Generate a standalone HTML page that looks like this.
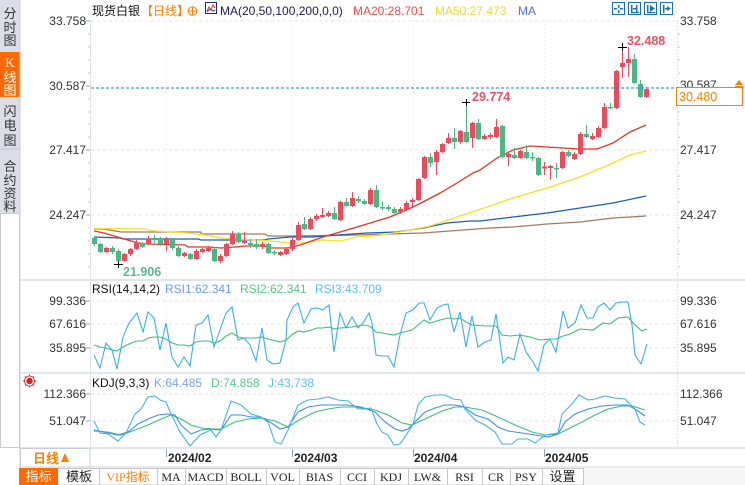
<!DOCTYPE html>
<html><head><meta charset="utf-8">
<style>
html,body{margin:0;padding:0;background:#fff;width:745px;height:485px;overflow:hidden}
svg{display:block}
text{font-family:"Liberation Sans","Noto Sans CJK SC",sans-serif}
.ax{font-size:12px;fill:#333}
.tab text{font-family:"Liberation Serif","Noto Sans CJK SC",serif;font-size:12px;fill:#222}
</style></head><body>
<svg width="745" height="485" viewBox="0 0 745 485" xmlns="http://www.w3.org/2000/svg">
<!-- sidebar -->
<rect x="0" y="0" width="20" height="213" fill="#dcdde6"/>
<rect x="0" y="52" width="20" height="45" fill="#ff6a00"/>
<line x1="0" y1="149" x2="20" y2="149" stroke="#c4c6d0"/>
<rect x="0.5" y="213.5" width="19" height="234" fill="#fff" stroke="#c8ccd4"/>
<line x1="20" y1="0" x2="20" y2="485" stroke="#c8ccd4"/>
<g font-size="13" fill="#333" text-anchor="middle">
<text x="10" y="18">分</text><text x="10" y="32">时</text><text x="10" y="45">图</text>
<text x="10" y="67" fill="#fff" style="font-family:'Liberation Serif',serif">K</text><text x="10" y="82" fill="#fff">线</text><text x="10" y="95" fill="#fff">图</text>
<text x="10" y="116">闪</text><text x="10" y="130">电</text><text x="10" y="145">图</text>
<text x="10" y="171">合</text><text x="10" y="185">约</text><text x="10" y="198">资</text><text x="10" y="211">料</text>
</g>
<!-- axes lines -->
<line x1="90.5" y1="20" x2="90.5" y2="448" stroke="#dde3ea"/>
<line x1="677.5" y1="20" x2="677.5" y2="448" stroke="#d0d4da" stroke-dasharray="1,2"/>
<!-- panel separators -->
<line x1="20" y1="280" x2="745" y2="280" stroke="#e3e7ec" stroke-width="2"/>
<line x1="20" y1="373" x2="745" y2="373" stroke="#e3e7ec" stroke-width="2"/>
<line x1="20" y1="448" x2="745" y2="448" stroke="#e3e7ec" stroke-width="2"/>
<line x1="20" y1="467" x2="745" y2="467" stroke="#d0d4da" stroke-width="1"/>
<!-- grid horizontal -->
<g stroke="#e6e6e6" stroke-dasharray="3,3">
<line x1="91" y1="21" x2="677" y2="21"/><line x1="91" y1="150" x2="677" y2="150"/><line x1="91" y1="215" x2="677" y2="215"/>
<line x1="91" y1="301" x2="677" y2="301"/><line x1="91" y1="324" x2="677" y2="324"/><line x1="91" y1="348" x2="677" y2="348"/>
<line x1="91" y1="394" x2="677" y2="394"/><line x1="91" y1="421" x2="677" y2="421"/>
</g>
<g stroke="#e3e3e3" stroke-dasharray="1,3">
<line x1="166.5" y1="20" x2="166.5" y2="448"/><line x1="292.5" y1="20" x2="292.5" y2="448"/>
<line x1="413.5" y1="20" x2="413.5" y2="448"/><line x1="544.5" y1="20" x2="544.5" y2="448"/>
</g>
<!-- ticks -->
<g stroke="#9aa4b0">
<line x1="86" y1="21" x2="90" y2="21"/><line x1="86" y1="86" x2="90" y2="86"/><line x1="86" y1="150" x2="90" y2="150"/><line x1="86" y1="215" x2="90" y2="215"/>
<line x1="86" y1="301" x2="90" y2="301"/><line x1="86" y1="324" x2="90" y2="324"/><line x1="86" y1="348" x2="90" y2="348"/>
<line x1="86" y1="394" x2="90" y2="394"/><line x1="86" y1="421" x2="90" y2="421"/>
</g>
<g stroke="#c0c8d0">
<line x1="88" y1="34" x2="90" y2="34"/><line x1="88" y1="47" x2="90" y2="47"/><line x1="88" y1="60" x2="90" y2="60"/><line x1="88" y1="73" x2="90" y2="73"/>
<line x1="88" y1="99" x2="90" y2="99"/><line x1="88" y1="112" x2="90" y2="112"/><line x1="88" y1="124" x2="90" y2="124"/><line x1="88" y1="137" x2="90" y2="137"/>
<line x1="88" y1="163" x2="90" y2="163"/><line x1="88" y1="176" x2="90" y2="176"/><line x1="88" y1="189" x2="90" y2="189"/><line x1="88" y1="202" x2="90" y2="202"/>
<line x1="88" y1="228" x2="90" y2="228"/><line x1="88" y1="241" x2="90" y2="241"/><line x1="88" y1="254" x2="90" y2="254"/><line x1="88" y1="267" x2="90" y2="267"/>
<line x1="678" y1="34" x2="680" y2="34"/><line x1="678" y1="47" x2="680" y2="47"/><line x1="678" y1="60" x2="680" y2="60"/><line x1="678" y1="73" x2="680" y2="73"/>
<line x1="678" y1="112" x2="680" y2="112"/><line x1="678" y1="124" x2="680" y2="124"/><line x1="678" y1="137" x2="680" y2="137"/>
<line x1="678" y1="163" x2="680" y2="163"/><line x1="678" y1="176" x2="680" y2="176"/><line x1="678" y1="189" x2="680" y2="189"/><line x1="678" y1="202" x2="680" y2="202"/>
<line x1="678" y1="228" x2="680" y2="228"/><line x1="678" y1="241" x2="680" y2="241"/><line x1="678" y1="254" x2="680" y2="254"/><line x1="678" y1="267" x2="680" y2="267"/>
</g>
<!-- left axis labels -->
<g class="ax" text-anchor="end">
<text x="86" y="25">33.758</text><text x="86" y="90">30.587</text><text x="86" y="154">27.417</text><text x="86" y="219">24.247</text>
<text x="86" y="305">99.336</text><text x="86" y="328">67.616</text><text x="86" y="352">35.895</text>
<text x="86" y="398">112.366</text><text x="86" y="425">51.047</text>
</g>
<!-- right axis labels -->
<g class="ax">
<text x="680" y="25">33.758</text><text x="680" y="89">30.587</text><text x="680" y="154">27.417</text><text x="680" y="219">24.247</text>
<text x="680" y="305">99.336</text><text x="680" y="328">67.616</text><text x="680" y="352">35.895</text>
<text x="680" y="398">112.366</text><text x="680" y="425">51.047</text>
</g>
<!-- title -->
<text x="92" y="15" font-size="12" fill="#111">现货白银</text>
<text x="141" y="15" font-size="12" fill="#ff8000">【日线】</text>
<circle cx="192.5" cy="11" r="4.2" fill="none" stroke="#ff8000"/><line x1="188" y1="11" x2="197" y2="11" stroke="#ff8000"/><line x1="192.5" y1="6.5" x2="192.5" y2="15.5" stroke="#ff8000"/>
<rect x="205.5" y="2.5" width="11" height="11" fill="#fff" stroke="#1a2a80"/><polyline points="207,11 209,7 211,10 213,5 215,8" fill="none" stroke="#e03030"/><polyline points="207,12 210,9 213,11 215,10" fill="none" stroke="#2050c0"/>
<text x="220" y="15" font-size="12" fill="#1a1a5a">MA(20,50,100,200,0,0)</text>
<text x="353" y="15" font-size="12" fill="#ff4a4a">MA20:28.701</text>
<text x="435" y="15" font-size="12" fill="#f0d838">MA50:27.473</text>
<text x="518" y="15" font-size="12" fill="#5a6fd6">MA</text>
<!-- top right icons -->
<g fill="none" stroke="#1a70c0">
<rect x="612.5" y="2.5" width="12" height="12"/><rect x="628.5" y="2.5" width="12" height="12"/><rect x="644.5" y="2.5" width="12" height="12"/><rect x="660.5" y="2.5" width="12" height="12"/>
</g>
<g fill="#1a70c0">
<rect x="618" y="5" width="1.5" height="3"/><rect x="618" y="10" width="1.5" height="3"/><rect x="614" y="8" width="3" height="1.5"/><rect x="620" y="8" width="3" height="1.5"/>
<rect x="631" y="5" width="1.5" height="8"/><rect x="636" y="5" width="1.5" height="8"/><rect x="631" y="12" width="8" height="1.2"/><rect x="633" y="8" width="3" height="1.5"/>
<rect x="647" y="5" width="1.5" height="8"/><polygon points="650,5 655,8.5 650,12"/><rect x="647" y="12" width="8" height="1.2"/>
<rect x="663" y="5" width="1.5" height="8"/><polygon points="667,6 671,8.5 667,11"/><rect x="665" y="8" width="3" height="1.5"/>
</g>
<!-- MAs -->
<g fill="none" stroke-width="1.3">
<polyline stroke="#a57a60" points="94,229 104,229 121,232 146,232 201,232 201,234 265,234 268,236 290,236 357,235 423,233 490,228 513,227 547,224 580,222 613,218 646,216"/>
<polyline stroke="#1a5fb4" points="94,237 120,238 123,239 198,239 201,240 265,240 268,239 290,237 313,237 337,235 367,233 397,232 423,228 447,223 470,221 480,221 513,217 547,213 580,208 613,203 646,196"/>
<polyline stroke="#f5e12a" points="94,228.5 121,228.5 143,229 155,231 171,232 188,233 205,235 221,238 238,239 255,240 271,241 290,243 305,243 323,240 340,241 357,237 373,236 400,232 430,226 457,217 490,206 513,198 547,188 580,177 613,163 630,155 646,151"/>
<polyline stroke="#ee3322" points="94,231 104,233 121,238 138,243 148,244 185,245 188,247 208,247 221,248 235,247 245,246 265,246 268,248 288,248 300,245 323,237 357,227 390,217 413,207 423,202 440,193 457,183 473,173 480,170 497,158 513,150 530,146 547,147 563,148 580,149 597,149 613,143 630,132 646,125"/>
</g>
<!-- red candles -->
<g fill="#eb4b5c">
<rect x="104" y="248" width="5" height="4"/><rect x="106" y="247" width="1" height="6"/>
<rect x="122" y="254" width="5" height="7"/><rect x="124" y="253" width="1" height="9"/>
<rect x="128" y="249" width="5" height="5"/><rect x="130" y="248" width="1" height="8"/>
<rect x="134" y="243" width="5" height="6"/><rect x="136" y="240" width="1" height="10"/>
<rect x="146" y="239" width="5" height="5"/><rect x="148" y="236" width="1" height="9"/>
<rect x="164" y="239" width="5" height="5"/><rect x="166" y="237" width="1" height="14"/>
<rect x="182" y="253" width="5" height="3"/><rect x="184" y="252" width="1" height="5"/>
<rect x="194" y="251" width="5" height="8"/><rect x="196" y="249" width="1" height="11"/>
<rect x="200" y="249" width="5" height="3"/><rect x="202" y="248" width="1" height="5"/>
<rect x="206" y="248" width="5" height="3"/><rect x="208" y="246" width="1" height="6"/>
<rect x="218" y="256" width="5" height="5"/><rect x="220" y="254" width="1" height="9"/>
<rect x="224" y="244" width="5" height="12"/><rect x="226" y="243" width="1" height="14"/>
<rect x="230" y="234" width="5" height="10"/><rect x="232" y="231" width="1" height="14"/>
<rect x="242" y="241" width="5" height="2"/><rect x="244" y="232" width="1" height="12"/>
<rect x="260" y="244" width="5" height="3"/><rect x="262" y="242" width="1" height="7"/>
<rect x="278" y="252" width="5" height="3"/><rect x="280" y="251" width="1" height="5"/>
<rect x="284" y="249" width="5" height="5"/><rect x="286" y="247" width="1" height="8"/>
<rect x="290" y="240" width="5" height="9"/><rect x="292" y="238" width="1" height="13"/>
<rect x="296" y="225" width="5" height="15"/><rect x="298" y="222" width="1" height="19"/>
<rect x="308" y="219" width="5" height="10"/><rect x="310" y="217" width="1" height="13"/>
<rect x="314" y="216" width="5" height="3"/><rect x="316" y="214" width="1" height="7"/>
<rect x="320" y="215" width="5" height="2"/><rect x="322" y="208" width="1" height="10"/>
<rect x="326" y="213" width="5" height="3"/><rect x="328" y="211" width="1" height="6"/>
<rect x="338" y="202" width="5" height="18"/><rect x="340" y="201" width="1" height="20"/>
<rect x="350" y="198" width="5" height="8"/><rect x="352" y="192" width="1" height="15"/>
<rect x="368" y="190" width="5" height="14"/><rect x="370" y="188" width="1" height="17"/>
<rect x="398" y="209" width="5" height="3"/><rect x="400" y="207" width="1" height="7"/>
<rect x="404" y="203" width="5" height="7"/><rect x="406" y="201" width="1" height="10"/>
<rect x="410" y="200" width="5" height="2"/><rect x="412" y="198" width="1" height="9"/>
<rect x="416" y="179" width="5" height="21"/><rect x="418" y="178" width="1" height="23"/>
<rect x="422" y="157" width="5" height="21"/><rect x="424" y="156" width="1" height="23"/>
<rect x="434" y="152" width="5" height="10"/><rect x="436" y="150" width="1" height="25"/>
<rect x="440" y="144" width="5" height="8"/><rect x="442" y="143" width="1" height="10"/>
<rect x="446" y="138" width="5" height="5"/><rect x="448" y="133" width="1" height="11"/>
<rect x="458" y="131" width="5" height="11"/><rect x="460" y="130" width="1" height="14"/>
<rect x="470" y="123" width="5" height="15"/><rect x="472" y="122" width="1" height="26"/>
<rect x="482" y="136" width="5" height="3"/><rect x="484" y="134" width="1" height="6"/>
<rect x="488" y="135" width="5" height="2"/><rect x="490" y="133" width="1" height="6"/>
<rect x="494" y="127" width="5" height="10"/><rect x="496" y="119" width="1" height="19"/>
<rect x="506" y="154" width="5" height="3"/><rect x="508" y="152" width="1" height="14"/>
<rect x="518" y="151" width="5" height="7"/><rect x="520" y="150" width="1" height="9"/>
<rect x="542" y="166.5" width="5" height="2"/><rect x="544" y="162" width="1" height="13"/>
<rect x="548" y="166" width="5" height="2"/><rect x="550" y="165" width="1" height="15"/>
<rect x="560" y="152" width="5" height="16"/><rect x="562" y="151" width="1" height="18"/>
<rect x="572" y="154" width="5" height="5"/><rect x="574" y="152" width="1" height="8"/>
<rect x="578" y="134" width="5" height="20"/><rect x="580" y="132" width="1" height="23"/>
<rect x="590" y="136" width="5" height="3"/><rect x="592" y="133" width="1" height="7"/>
<rect x="596" y="128" width="5" height="9"/><rect x="598" y="126" width="1" height="12"/>
<rect x="602" y="107" width="5" height="21"/><rect x="604" y="103" width="1" height="26"/>
<rect x="614" y="71" width="5" height="37"/><rect x="616" y="70" width="1" height="39"/>
<rect x="620" y="63" width="5" height="4"/><rect x="622" y="47" width="1" height="31"/>
<rect x="626" y="59" width="5" height="4"/><rect x="628" y="47" width="1" height="30"/>
<rect x="644" y="89" width="5" height="8"/><rect x="646" y="87" width="1" height="11"/>
</g>
<!-- green candles -->
<g fill="#4cb783">
<rect x="92" y="238" width="5" height="6"/><rect x="94" y="236" width="1" height="10"/>
<rect x="98" y="244" width="5" height="8"/><rect x="100" y="243" width="1" height="10"/>
<rect x="110" y="248" width="5" height="4"/><rect x="112" y="246" width="1" height="8"/>
<rect x="116" y="251" width="5" height="10"/><rect x="118" y="249" width="1" height="15"/>
<rect x="140" y="243" width="5" height="4"/><rect x="142" y="242" width="1" height="6"/>
<rect x="152" y="238" width="5" height="2"/><rect x="154" y="235" width="1" height="8"/>
<rect x="158" y="239" width="5" height="5"/><rect x="160" y="237" width="1" height="9"/>
<rect x="170" y="239" width="5" height="9"/><rect x="172" y="238" width="1" height="12"/>
<rect x="176" y="248" width="5" height="8"/><rect x="178" y="246" width="1" height="11"/>
<rect x="188" y="254" width="5" height="5"/><rect x="190" y="253" width="1" height="7"/>
<rect x="212" y="249" width="5" height="12"/><rect x="214" y="247" width="1" height="15"/>
<rect x="236" y="234" width="5" height="8"/><rect x="238" y="232" width="1" height="11"/>
<rect x="248" y="243" width="5" height="2"/><rect x="250" y="239" width="1" height="9"/>
<rect x="254" y="244" width="5" height="3"/><rect x="256" y="239" width="1" height="10"/>
<rect x="266" y="244" width="5" height="9"/><rect x="268" y="243" width="1" height="11"/>
<rect x="272" y="252" width="5" height="1.5"/><rect x="274" y="250" width="1" height="5"/>
<rect x="302" y="224" width="5" height="5"/><rect x="304" y="217" width="1" height="13"/>
<rect x="332" y="213" width="5" height="6"/><rect x="334" y="207" width="1" height="13"/>
<rect x="344" y="202" width="5" height="4"/><rect x="346" y="198" width="1" height="9"/>
<rect x="356" y="199" width="5" height="2"/><rect x="358" y="196" width="1" height="7"/>
<rect x="362" y="201" width="5" height="3"/><rect x="364" y="199" width="1" height="6"/>
<rect x="374" y="190" width="5" height="17"/><rect x="376" y="185" width="1" height="23"/>
<rect x="380" y="207" width="5" height="1.5"/><rect x="382" y="202" width="1" height="8"/>
<rect x="386" y="207" width="5" height="2"/><rect x="388" y="205" width="1" height="6"/>
<rect x="392" y="209" width="5" height="4"/><rect x="394" y="207" width="1" height="7"/>
<rect x="428" y="157" width="5" height="6"/><rect x="430" y="153" width="1" height="14"/>
<rect x="452" y="138" width="5" height="4"/><rect x="454" y="128" width="1" height="21"/>
<rect x="464" y="132" width="5" height="10"/><rect x="466" y="102" width="1" height="41"/>
<rect x="476" y="123" width="5" height="16"/><rect x="478" y="119" width="1" height="21"/>
<rect x="500" y="126" width="5" height="31"/><rect x="502" y="125" width="1" height="33"/>
<rect x="512" y="155" width="5" height="3"/><rect x="514" y="148" width="1" height="11"/>
<rect x="524" y="152" width="5" height="6"/><rect x="526" y="145" width="1" height="14"/>
<rect x="530" y="157" width="5" height="1.5"/><rect x="532" y="152" width="1" height="9"/>
<rect x="536" y="158" width="5" height="17"/><rect x="538" y="157" width="1" height="19"/>
<rect x="554" y="168" width="5" height="1.5"/><rect x="556" y="163" width="1" height="15"/>
<rect x="566" y="152" width="5" height="4"/><rect x="568" y="150" width="1" height="7"/>
<rect x="584" y="134" width="5" height="3"/><rect x="586" y="125" width="1" height="13"/>
<rect x="608" y="107" width="5" height="1.5"/><rect x="610" y="103" width="1" height="6"/>
<rect x="632" y="59" width="5" height="24"/><rect x="634" y="54" width="1" height="30"/>
<rect x="638" y="84" width="5" height="13"/><rect x="640" y="80" width="1" height="18"/>
</g>
<!-- current price line -->
<line x1="91" y1="88" x2="745" y2="88" stroke="#1e7fe6" stroke-dasharray="3,2"/>
<rect x="676.5" y="87.5" width="66" height="18" fill="#fff" stroke="#ff8000"/>
<text x="679" y="101" font-size="12.5" fill="#ff8000">30.480</text>
<polygon points="739,80 735,85 743,85" fill="#ff8000"/><rect x="735" y="86" width="8" height="1.5" fill="#ff8000"/>
<!-- extreme markers -->
<g stroke="#000">
<line x1="618" y1="47.5" x2="627" y2="47.5"/><line x1="622.5" y1="43" x2="622.5" y2="51"/>
<line x1="462" y1="102.5" x2="470" y2="102.5"/><line x1="466.5" y1="99" x2="466.5" y2="106"/>
<line x1="114" y1="264.5" x2="123" y2="264.5"/><line x1="118.5" y1="261" x2="118.5" y2="268"/>
</g>
<g font-size="12.5" font-weight="bold">
<text x="627" y="45" fill="#ee5064">32.488</text>
<text x="472" y="101" fill="#ee5064">29.774</text>
<text x="123" y="276" fill="#5bb890">21.906</text>
</g>
<!-- RSI -->
<g font-size="12">
<text x="92" y="293" fill="#111">RSI(14,14,2)</text>
<text x="165" y="293" fill="#6d9bf5">RSI1:62.341</text>
<text x="240" y="293" fill="#55c98a">RSI2:62.341</text>
<text x="315" y="293" fill="#5ec2ee">RSI3:43.709</text>
</g>
<polyline fill="none" stroke="#3cbf78" stroke-width="1.1" points="94,345 100,347 106,348 112,350 117,351 123,347 129,344 137,341 143,341 148,338 154,337 160,337 166,339 172,343 178,345 184,345 190,346 196,342 202,341 208,341 214,343 220,341 226,336 232,333 238,337 244,338 256,338 262,337 268,339 280,342 286,340 293,334 298,331 304,332 311,330 317,328 323,328 329,327 334,329 340,328 352,327 363,325 369,326 372,328 376,332 382,333 394,335 400,333 412,330 418,325 424,320 430,323 440,320 448,318 454,319 460,318 466,322 472,325 485,326 496,326 502,335 510,336 520,335 530,337 540,340 550,339 556,339 563,336 570,334 580,329 593,330 603,323 610,324 618,318 628,317 635,325 642,331 647,329"/>
<polyline fill="none" stroke="#3db0e6" stroke-width="1.1" points="94,355 100,368 106,343 112,350 117,369 123,337 129,323 137,313 143,332 148,312 154,318 160,350 166,323 172,357 178,367 184,357 190,366 196,325 202,323 208,315 214,347 220,330 226,313 232,307 238,340 244,338 250,345 256,361 262,328 267,360 273,364 280,363 286,340 287,320 293,307 298,303 304,323 311,309 317,308 323,310 329,305 334,352 340,313 346,328 352,317 358,328 363,323 369,313 372,323 376,355 382,356 388,356 394,367 400,335 406,313 413,310 419,303 424,303 430,320 437,308 443,305 448,304 454,332 460,312 466,347 472,316 478,347 485,342 491,340 496,314 503,363 508,357 514,360 520,334 526,352 533,362 538,371 544,345 550,339 556,352 563,311 568,328 575,323 581,305 587,318 593,318 598,307 604,303 610,310 616,303 622,302 628,302 632,325 635,355 641,364 647,344"/>
<!-- KDJ -->
<g>
<circle cx="29.5" cy="381" r="3.2" fill="#e02020"/><circle cx="29.5" cy="381" r="5" fill="none" stroke="#e02020" stroke-width="0.8"/>
<g stroke="#e02020" stroke-width="1"><line x1="23" y1="381" x2="24.5" y2="381"/><line x1="34.5" y1="381" x2="36" y2="381"/><line x1="29.5" y1="374.5" x2="29.5" y2="376"/><line x1="29.5" y1="386" x2="29.5" y2="387.5"/><line x1="25" y1="376.5" x2="26" y2="377.5"/><line x1="33" y1="384.5" x2="34" y2="385.5"/><line x1="34" y1="376.5" x2="33" y2="377.5"/><line x1="26" y1="384.5" x2="25" y2="385.5"/></g>
</g>
<g font-size="12">
<text x="92" y="387" fill="#111">KDJ(9,3,3)</text>
<text x="154" y="387" fill="#7fa2f5">K:64.485</text>
<text x="211" y="387" fill="#55c98a">D:74.858</text>
<text x="268" y="387" fill="#5ec2ee">J:43.738</text>
</g>
<g fill="none" stroke-width="1.1">
<polyline stroke="#3cbf78" points="94,431 108,432 121,435 135,430 148,425 161,419 171,415 181,419 191,425 201,428 215,429 221,429 235,422 248,419 261,418 275,421 288,427 301,419 315,412 328,409 341,407 355,407 375,410 388,415 402,423 412,425 425,419 442,411 455,407 465,407 482,410 498,417 515,425 532,432 545,435 558,434 568,429 582,422 595,415 608,409 622,406 632,406 645,410"/>
<polyline stroke="#3d8ff0" points="94,430 108,433 118,435 128,432 138,424 148,419 158,415 168,414 175,415 181,425 191,434 201,430 211,429 221,430 231,415 241,415 251,417 261,417 270,422 280,429 288,427 298,412 308,407 321,405 335,405 348,405 361,407 375,412 385,422 395,429 402,431 408,429 415,422 425,412 435,408 445,405 455,405 464,407 475,415 488,419 498,427 508,431 522,433 535,435 548,437 558,434 565,422 575,414 588,409 602,406 615,405 628,405 638,411 645,416"/>
<polyline stroke="#45b4e8" points="94,421 100,433 108,434 118,441 126,433 135,414 141,409 148,397 155,396 160,400 166,402 171,414 180,432 190,446 200,435 211,430 216,437 221,430 231,401 241,405 251,414 261,417 268,422 275,442 281,444 288,430 298,405 308,400 318,399 328,397 338,400 348,401 358,409 365,409 371,408 377,424 382,432 388,435 394,445 400,444 407,434 413,424 418,405 425,397 435,395 445,395 453,399 461,400 465,409 475,420 485,425 495,432 502,444 512,444 518,439 528,439 535,443 545,435 558,433 562,414 572,404 579,395 588,400 595,399 605,396 615,398 625,399 630,404 635,409 640,422 645,425"/>
</g>
<!-- date row -->
<rect x="20.5" y="448.5" width="69.5" height="18.5" fill="#fff" stroke="#c8ccd4"/>
<text x="33" y="463" font-size="13" font-weight="bold" fill="#ff8000">日线</text>
<polygon points="65,453 61,462 69,462" fill="#ff8000"/>
<g stroke="#9aa4b0"><line x1="166.5" y1="449" x2="166.5" y2="457"/><line x1="292.5" y1="449" x2="292.5" y2="457"/><line x1="413.5" y1="449" x2="413.5" y2="457"/><line x1="544.5" y1="449" x2="544.5" y2="457"/></g>
<g font-size="12" font-weight="bold" fill="#222">
<text x="168" y="462">2024/02</text><text x="294" y="462">2024/03</text><text x="414" y="462">2024/04</text><text x="545" y="462">2024/05</text>
</g>
<!-- tabs -->
<rect x="19" y="468" width="726" height="17" fill="#f7f7f7"/>
<rect x="19.5" y="468.5" width="564" height="16.5" fill="#fff" stroke="#c8c8c8"/>
<rect x="19" y="468" width="39" height="17" fill="#ff6a00"/>
<g stroke="#c8c8c8">
<line x1="99.5" y1="468" x2="99.5" y2="485"/><line x1="157.5" y1="468" x2="157.5" y2="485"/><line x1="185.5" y1="468" x2="185.5" y2="485"/><line x1="226.5" y1="468" x2="226.5" y2="485"/><line x1="266.5" y1="468" x2="266.5" y2="485"/><line x1="299.5" y1="468" x2="299.5" y2="485"/><line x1="340.5" y1="468" x2="340.5" y2="485"/><line x1="374.5" y1="468" x2="374.5" y2="485"/><line x1="408.5" y1="468" x2="408.5" y2="485"/><line x1="447.5" y1="468" x2="447.5" y2="485"/><line x1="482.5" y1="468" x2="482.5" y2="485"/><line x1="510.5" y1="468" x2="510.5" y2="485"/><line x1="542.5" y1="468" x2="542.5" y2="485"/>
</g>
<g class="tab" text-anchor="middle">
<text x="38.5" y="481" fill="#fff" font-size="13" style="font-family:'Noto Sans CJK SC',sans-serif;fill:#fff;font-size:13px">指标</text>
<text x="79" y="481" style="font-family:'Noto Sans CJK SC',sans-serif;font-size:13px">模板</text>
<text x="128" y="481" style="fill:#ff7a00">VIP指标</text>
<text x="171" y="481">MA</text>
<text x="205.5" y="481">MACD</text>
<text x="246" y="481">BOLL</text>
<text x="282.5" y="481">VOL</text>
<text x="319.5" y="481">BIAS</text>
<text x="357" y="481">CCI</text>
<text x="391" y="481">KDJ</text>
<text x="427.5" y="481">LW&amp;</text>
<text x="464.5" y="481">RSI</text>
<text x="496" y="481">CR</text>
<text x="526" y="481">PSY</text>
<text x="562.5" y="481" style="font-family:'Noto Sans CJK SC',sans-serif;font-size:13px">设置</text>
</g>
</svg>
</body></html>
